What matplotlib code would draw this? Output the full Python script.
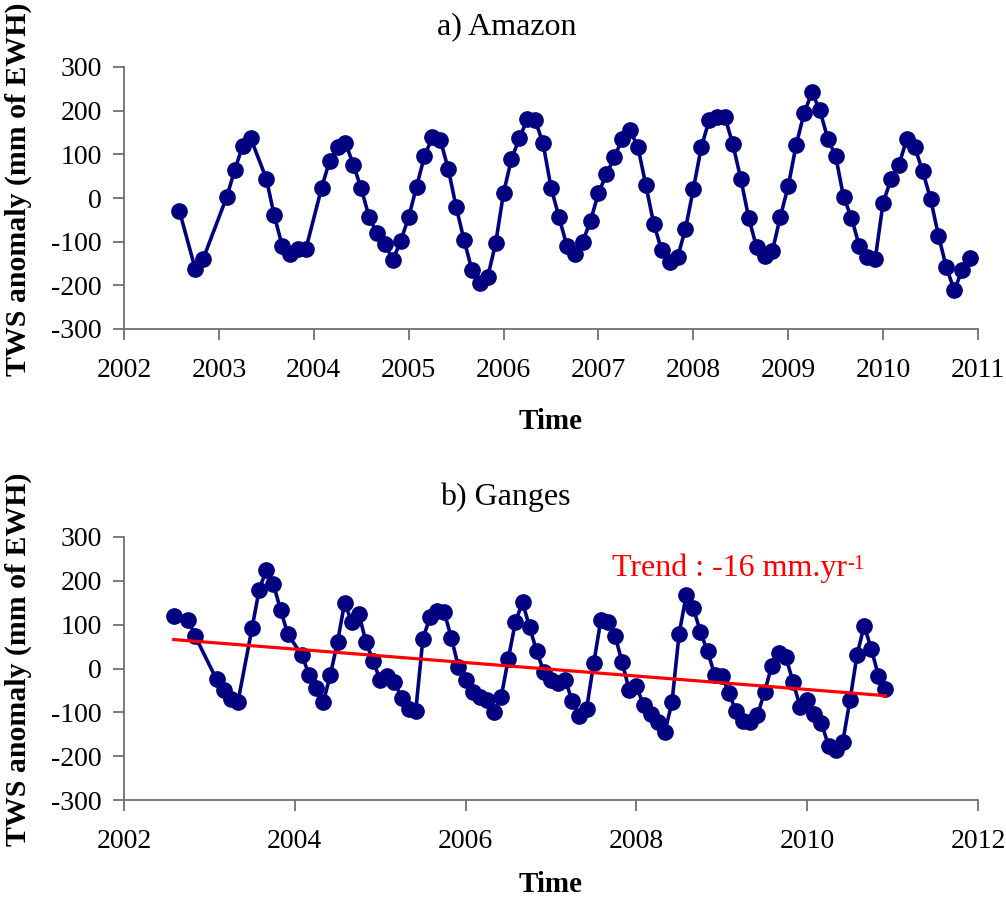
import numpy as np
import matplotlib
matplotlib.use("Agg")
import matplotlib.pyplot as plt

plt.rcParams['font.family'] = ['Liberation Serif', 'DejaVu Serif']
plt.rcParams['axes.unicode_minus'] = False

# GRACE months (some months missing)
months = (['2002-08', '2002-10', '2002-11'] +
          ['2003-%02d' % m for m in [2, 3, 4, 5, 7, 8, 9, 10, 11, 12]] +
          ['2004-%02d' % m for m in range(2, 13)] +
          ['%d-%02d' % (y, m) for y in range(2005, 2011) for m in range(1, 13)])

amazon = [-29, -162, -140,
          3, 64, 119, 138, 44, -40, -109, -128, -117, -117,
          24, 85, 116, 127, 76, 22, -44, -81, -105, -142, -98,
          -44, 26, 96, 139, 133, 67, -20, -96, -165, -194, -180, -104,
          12, 89, 137, 180, 178, 125, 24, -43, -109, -129, -101, -52,
          11, 54, 93, 135, 156, 116, 29, -60, -119, -146, -136, -71,
          20, 116, 178, 185, 185, 123, 44, -45, -113, -133, -121, -43,
          27, 121, 194, 242, 201, 136, 96, 2, -45, -111, -134, -140,
          -11, 43, 76, 135, 116, 62, -2, -86, -159, -211, -165, -137]

ganges = [119, 111, 74,
          -25, -49, -69, -77, 93, 180, 225, 192, 134, 79,
          30, -14, -44, -77, -14, 60, 150, 106, 125, 60, 18,
          -27, -16, -30, -67, -92, -96, 68, 117, 131, 128, 70, 3,
          -27, -54, -65, -71, -100, -65, 22, 106, 151, 94, 39, -8,
          -27, -33, -26, -75, -109, -92, 12, 110, 106, 75, 14, -50,
          -40, -84, -103, -123, -145, -77, 79, 167, 138, 83, 39, -14,
          -16, -56, -98, -119, -123, -107, -54, 5, 35, 26, -30, -87,
          -71, -103, -125, -176, -186, -167, -73, 30, 98, 45, -16, -46]

# trend line end values (mm)
trend_ends = [66, -62]

t = np.array([int(s[:4]) + (int(s[5:]) - 1) / 12.0 for s in months])

W, H = 1006, 901
fig = plt.figure(figsize=(W / 100, H / 100), dpi=100)

def make_axes(top, bottom):
    return fig.add_axes([124 / W, 1 - bottom / H, (978 - 124) / W, (bottom - top) / H])

def style(ax, xpad):
    for s in ['top', 'right']:
        ax.spines[s].set_visible(False)
    for s in ['left', 'bottom']:
        ax.spines[s].set_color('#707070')
        ax.spines[s].set_linewidth(1.3)
    ax.tick_params(axis='both', direction='out', length=8, width=1.3, color='#707070',
                   labelsize=20)
    ax.tick_params(axis='y', pad=8)
    ax.tick_params(axis='x', pad=13)
    ax.set_ylim(-300, 300)
    ax.set_yticks(range(-300, 301, 100))
    ax.set_ylabel('TWS anomaly (mm of EWH)', fontsize=21.5, fontweight='bold')
    ax.yaxis.set_label_coords(-0.108, 0.535)
    ax.set_xlabel('Time', fontsize=21, fontweight='bold', labelpad=xpad)

ax1 = make_axes(67, 329)
ax1.plot(t, amazon, '-o', color='#000080', lw=2.6, ms=11)
style(ax1, 18)
ax1.set_xlim(2002, 2011)
ax1.set_xticks(range(2002, 2012))
fig.text(507 / W, 1 - 27 / H, 'a) Amazon', ha='center', va='center', fontsize=23)

ax2 = make_axes(537, 800)
ax2.plot(t, ganges, '-o', color='#000080', lw=2.6, ms=11)
ax2.plot([t[0], t[-1]], trend_ends, '-', color='red', lw=2.3)
style(ax2, 12)
ax2.set_xlim(2002, 2012)
ax2.set_xticks(range(2002, 2013, 2))
trend_txt = ax2.text(2007.72, 228, 'Trend : -16 mm.yr', color='red', fontsize=23,
                     ha='left', va='center')
ax2.annotate('-1', xy=(1.0, 0.95), xycoords=trend_txt, ha='left', va='top',
             color='red', fontsize=15)
fig.text(505 / W, 1 - 497 / H, 'b) Ganges', ha='center', va='center', fontsize=23)

fig.savefig('out.png', dpi=100)
